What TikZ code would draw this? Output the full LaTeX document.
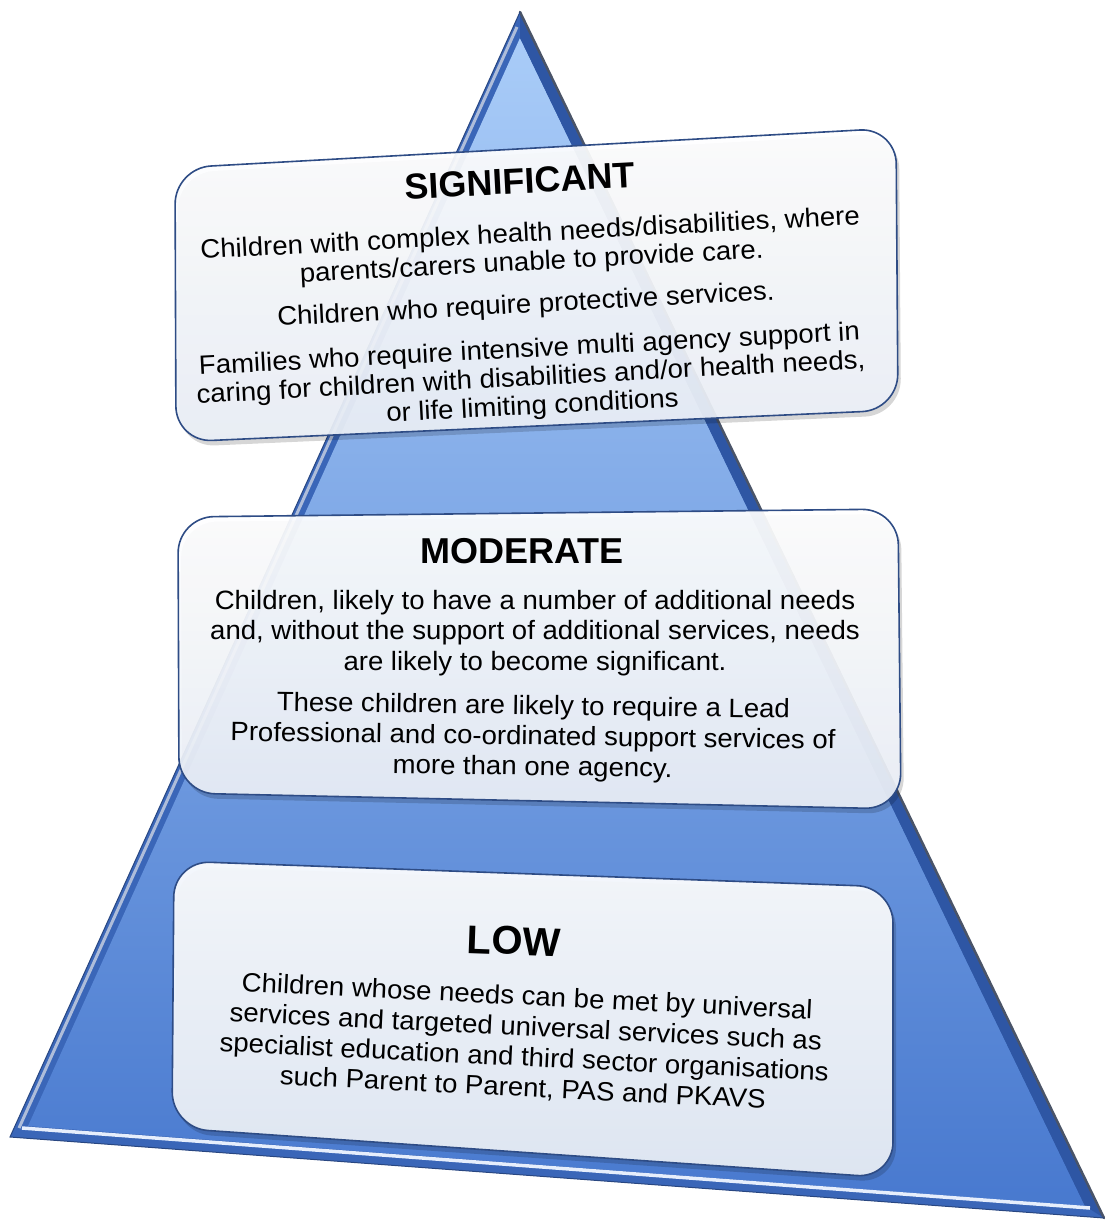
\documentclass[tikz,border=0pt]{standalone}
\usepackage{fontspec}
\usetikzlibrary{calc}
\setmainfont{Liberation Sans}
\newfontfamily\bodyfont[FakeStretch=1.04]{Liberation Sans}
\definecolor{tritop}{HTML}{A9CCF8}
\definecolor{trimid}{HTML}{79A3EA}
\definecolor{tribot}{HTML}{4879CF}
\definecolor{triedge}{HTML}{3A66B8}
\definecolor{triband}{HTML}{2E56A4}
\definecolor{triline}{HTML}{4A5468}
\definecolor{bevel}{HTML}{AEBDDA}
\definecolor{baselight}{HTML}{E6EEFC}
\definecolor{boxline}{HTML}{2E4C85}
\definecolor{boxbot}{HTML}{EAEFF7}
\begin{document}
\begin{tikzpicture}[x=1pt,y=-1pt,
  boxshape/.style={rounded corners=36pt, draw=boxline, line width=1.6pt,
    top color=white, bottom color=boxbot, fill opacity=0.93, draw opacity=1},
  boxshadow/.style={rounded corners=36pt, fill=black, fill opacity=0.16},
  titletext/.style={font=\fontsize{36}{40}\selectfont\bfseries, inner sep=0pt},
  bodytext/.style={font=\bodyfont\fontsize{26.5}{28.5}\selectfont, align=center, inner sep=0pt},
  widebody/.style={font=\bodyfont\fontsize{26.5}{30.5}\selectfont},
]
\useasboundingbox (0,0) rectangle (1104,1223);
% ---------- pyramid ----------
\coordinate (A) at (520,12);
\coordinate (L) at (10,1137);
\coordinate (R) at (1104,1218);
\coordinate (Ai) at (520,38);
\coordinate (Li) at (28,1126);
\coordinate (Ri) at (1085,1206);
\fill[triedge] (A) -- (L) -- (R) -- cycle;
\shade[top color=tritop, middle color=trimid, bottom color=tribot] (Ai) -- (Li) -- (Ri) -- cycle;
\fill[triband] (A) -- (R) -- (Ri) -- (Ai) -- cycle;
\draw[bevel, line width=3pt] (517,27) -- (19,1128);
\draw[baselight, line width=3.5pt] (22,1128) -- (1090,1208);
\draw[triline, line width=2.5pt, line cap=round] (A) -- (R);
\draw[triedge!70!black, line width=1pt] (A) -- (L) -- (R);
% ---------- SIGNIFICANT box ----------
\coordinate (s1) at (175,168); \coordinate (s2) at (896,128);
\coordinate (s3) at (898,410); \coordinate (s4) at (176,442);
\fill[boxshadow] ($(s1)+(3,5)$) -- ($(s2)+(3,5)$) -- ($(s3)+(3,5)$) -- ($(s4)+(3,5)$) -- cycle;
\path[boxshape] (s1) -- (s2) -- (s3) -- (s4) -- cycle;
\node[titletext, rotate=3] (sigT) at (520,181) {SIGNIFICANT};
\node[bodytext, rotate=3] (sigA) at (531,249) {Children with complex health needs/disabilities, where\\parents/carers unable to provide care.};
\node[bodytext, rotate=3] (sigB) at (526,306) {Children who require protective services.};
\node[bodytext, rotate=3] (sigC) at (531,379) {Families who require intensive multi agency support in\\caring for children with disabilities and/or health needs,\\or life limiting conditions};
% ---------- MODERATE box ----------
\coordinate (m1) at (178,517); \coordinate (m2) at (898,509);
\coordinate (m3) at (901,809); \coordinate (m4) at (179,793);
\fill[boxshadow] ($(m1)+(3,5)$) -- ($(m2)+(3,5)$) -- ($(m3)+(3,5)$) -- ($(m4)+(3,5)$) -- cycle;
\path[boxshape] (m1) -- (m2) -- (m3) -- (m4) -- cycle;
\node[titletext] (modT) at (522,551) {MODERATE};
\node[bodytext, widebody] (modA) at (535,633) {Children, likely to have a number of additional needs\\and, without the support of additional services, needs\\are likely to become significant.};
\node[bodytext, widebody, rotate=-0.8] (modB) at (533,738) {These children are likely to require a Lead\\Professional and co-ordinated support services of\\more than one agency.};
% ---------- LOW box ----------
\coordinate (l1) at (174,861); \coordinate (l2) at (893,887);
\coordinate (l3) at (893,1178); \coordinate (l4) at (172,1128);
\fill[boxshadow] ($(l1)+(3,5)$) -- ($(l2)+(3,5)$) -- ($(l3)+(3,5)$) -- ($(l4)+(3,5)$) -- cycle;
\path[boxshape] (l1) -- (l2) -- (l3) -- (l4) -- cycle;
\node[titletext, font=\fontsize{40}{44}\selectfont\bfseries, rotate=-2] (lowT) at (514,941) {LOW};
\node[bodytext, widebody, rotate=-2.8] (lowA) at (525,1043) {Children whose needs can be met by universal\\services and targeted universal services such as\\specialist education and third sector organisations\\such Parent to Parent, PAS and PKAVS};
\end{tikzpicture}
\end{document}
